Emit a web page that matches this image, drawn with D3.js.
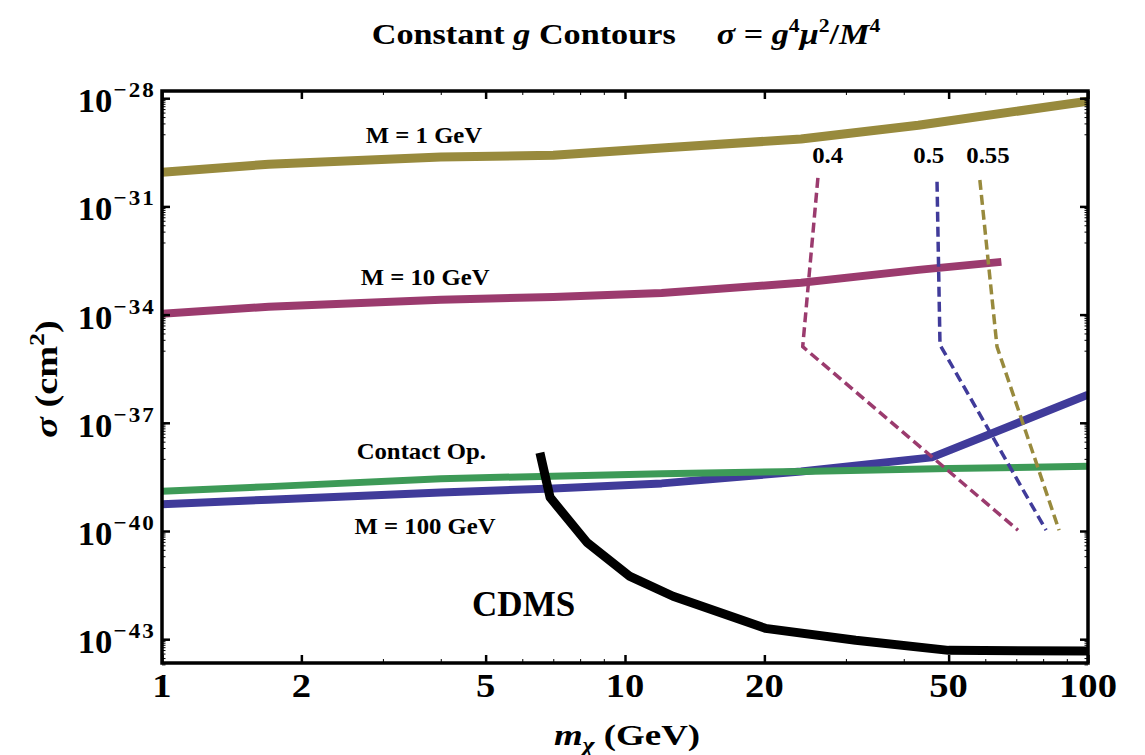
<!DOCTYPE html>
<html>
<head>
<meta charset="utf-8">
<script src="https://cdn.jsdelivr.net/npm/d3@7"></script>
<style>
  body { margin: 0; background: #fff; }
  svg text { font-family: "Liberation Serif", "Times New Roman", serif; font-weight: bold; fill: #000; }
</style>
</head>
<body>
<div id="chart"></div>
<script>
// --- values (mass in GeV, sigma in cm^2) ---
const massM1 = [1, 1.7, 4, 7, 12, 24, 43, 100];
const sigmaM1 = [8.9e-31, 1.48e-30, 2.34e-30, 2.63e-30, 4.17e-30, 7.4e-30, 1.78e-29, 8.3e-29];

const massM10 = [1, 1.7, 4, 7, 12, 24, 43, 65];
const sigmaM10 = [1.05e-34, 1.66e-34, 2.57e-34, 3.1e-34, 4.0e-34, 7.6e-34, 1.74e-33, 2.9e-33];

const massM100 = [1, 1.7, 4, 7, 12, 24, 46, 100];
const sigmaM100 = [5.5e-40, 7.4e-40, 1.17e-39, 1.51e-39, 2.09e-39, 4.47e-39, 1.10e-38, 6.0e-37];

const massContact = [1, 1.7, 4, 12, 24, 50, 100];
const sigmaContact = [1.26e-39, 1.70e-39, 2.82e-39, 3.89e-39, 4.47e-39, 5.4e-39, 6.2e-39];

const massCDMS = [6.55, 6.89, 8.28, 10.25, 12.7, 20.1, 31.5, 50, 100];
const sigmaCDMS = [1.48e-38, 8.5e-40, 4.8e-41, 5.5e-42, 1.55e-42, 2.0e-43, 9.3e-44, 4.9e-44, 4.7e-44];

const massG04 = [26.1, 24.2, 70.6];
const sigmaG04 = [6.2e-31, 1.29e-35, 1.05e-40];
const massG05 = [47.2, 47.9, 81.2];
const sigmaG05 = [4.8e-31, 1.45e-35, 1.05e-40];
const massG055 = [58.4, 63.6, 86.6];
const sigmaG055 = [5.4e-31, 1.29e-35, 1.05e-40];

const xTicks = [1, 2, 5, 10, 20, 50, 100];
const xMinor = [3, 4, 6, 7, 8, 9, 30, 40, 60, 70, 80, 90];
const yTickExp = [-28, -31, -34, -37, -40, -43];

// curve labels: [text, mass, sigma]
const curveLabels = [
  ["M = 1 GeV", 3.68, 5.7e-30],
  ["M = 10 GeV", 3.7, 6.6e-34],
  ["Contact Op.", 3.63, 1.02e-38],
  ["M = 100 GeV", 3.7, 8.0e-41]
];
// coupling labels: [text, mass]
const gLabels = [["0.4", 27.4], ["0.5", 45.3], ["0.55", 60.8]];

(function() {
  const width = 1145;
  const height = 755;
  const margin = { top: 91, right: 57, bottom: 92, left: 162 };

  const svg = d3.select("#chart")
    .append("svg")
      .attr("width", width)
      .attr("height", height);

  const x = d3.scaleLog()
    .domain([1, 100])
    .range([margin.left, width - margin.right]);

  const y = d3.scaleLog()
    .domain([Math.pow(10, -43.66), Math.pow(10, -27.8)])
    .range([height - margin.bottom, margin.top]);

  const line = d3.line()
    .x(d => x(d[0]))
    .y(d => y(d[1]));

  const series = [
    { mass: massM1, sigma: sigmaM1, color: "#988a3d", w: 9 },
    { mass: massM10, sigma: sigmaM10, color: "#9b3b6e", w: 8 },
    { mass: massM100, sigma: sigmaM100, color: "#403b9a", w: 8 },
    { mass: massContact, sigma: sigmaContact, color: "#3d9a57", w: 7 },
    { mass: massCDMS, sigma: sigmaCDMS, color: "#000000", w: 9 },
    { mass: massG04, sigma: sigmaG04, color: "#9b3b6e", w: 3.5, dash: "10,5" },
    { mass: massG05, sigma: sigmaG05, color: "#403b9a", w: 3.5, dash: "10,5" },
    { mass: massG055, sigma: sigmaG055, color: "#988a3d", w: 3.5, dash: "10,5" }
  ];

  const x0 = margin.left, x1 = width - margin.right;
  const y0 = margin.top, y1 = height - margin.bottom;

  // the reference's type is a little wide, so texts get a horizontal stretch
  const place = (px, py, sx, rot) =>
    `translate(${px},${py})` + (rot ? ` rotate(${rot})` : "") + ` scale(${sx},1)`;

  svg.append("clipPath").attr("id", "plot-clip")
    .append("rect")
      .attr("x", x0).attr("y", y0)
      .attr("width", x1 - x0).attr("height", y1 - y0);

  svg.append("g")
    .attr("clip-path", "url(#plot-clip)")
    .selectAll("path")
    .data(series)
    .enter().append("path")
      .attr("d", d => line(d3.zip(d.mass, d.sigma)))
      .attr("fill", "none")
      .attr("stroke", d => d.color)
      .attr("stroke-width", d => d.w)
      .attr("stroke-linejoin", "round")
      .attr("stroke-linecap", "butt")
      .attr("stroke-dasharray", d => d.dash || null);

  // ticks on all four sides, pointing inward
  const yMinor = [];
  yTickExp.forEach(e => {
    for (let n = 1; n <= 9; n++) yMinor.push(n * Math.pow(10, e - 1));
  });

  function styleAxis(g, w) {
    g.select(".domain").remove();
    g.selectAll("text").remove();
    g.selectAll("line").attr("stroke", "#000").attr("stroke-width", w);
  }

  svg.append("g").attr("transform", `translate(0,${y1})`)
    .call(d3.axisBottom(x).tickValues(xTicks).tickSize(-8)).call(g => styleAxis(g, 2.5));
  svg.append("g").attr("transform", `translate(0,${y1})`)
    .call(d3.axisBottom(x).tickValues(xMinor).tickSize(-4)).call(g => styleAxis(g, 1));
  svg.append("g").attr("transform", `translate(0,${y0})`)
    .call(d3.axisTop(x).tickValues(xTicks).tickSize(-8)).call(g => styleAxis(g, 2.5));
  svg.append("g").attr("transform", `translate(0,${y0})`)
    .call(d3.axisTop(x).tickValues(xMinor).tickSize(-4)).call(g => styleAxis(g, 1));

  const yMajor = yTickExp.map(e => Math.pow(10, e));
  svg.append("g").attr("transform", `translate(${x0},0)`)
    .call(d3.axisLeft(y).tickValues(yMajor).tickSize(-8)).call(g => styleAxis(g, 2.5));
  svg.append("g").attr("transform", `translate(${x0},0)`)
    .call(d3.axisLeft(y).tickValues(yMinor).tickSize(-3.5)).call(g => styleAxis(g, 1));
  svg.append("g").attr("transform", `translate(${x1},0)`)
    .call(d3.axisRight(y).tickValues(yMajor).tickSize(-8)).call(g => styleAxis(g, 2.5));
  svg.append("g").attr("transform", `translate(${x1},0)`)
    .call(d3.axisRight(y).tickValues(yMinor).tickSize(-3.5)).call(g => styleAxis(g, 1));

  // frame
  svg.append("rect")
    .attr("x", x0).attr("y", y0)
    .attr("width", x1 - x0).attr("height", y1 - y0)
    .attr("fill", "none")
    .attr("stroke", "#000")
    .attr("stroke-width", 3.5);

  // tick labels
  svg.append("g").selectAll("text")
    .data(xTicks)
    .enter().append("text")
      .attr("transform", d => place(x(d), y1 + 34, 1.17))
      .attr("text-anchor", "middle")
      .style("font-size", "33px")
      .text(d => d);

  const yl = svg.append("g").selectAll("text")
    .data(yTickExp)
    .enter().append("text")
      .attr("transform", d => place(x0 - 6, y(Math.pow(10, d)) + 14, 1.05))
      .attr("text-anchor", "end")
      .style("font-size", "33px");
  yl.append("tspan").text("10");
  yl.append("tspan")
    .attr("dy", -15)
    .attr("dx", 1)
    .style("font-size", "22px")
    .style("letter-spacing", "2px")
    .text(d => "\u2212" + Math.abs(d));

  // title
  const title = svg.append("text")
    .attr("transform", place((x0 + x1) / 2 + 1, 44, 1.14))
    .attr("text-anchor", "middle")
    .style("font-size", "30px");
  title.append("tspan").text("Constant ");
  title.append("tspan").style("font-style", "italic").text("g");
  title.append("tspan").text(" Contours");
  title.append("tspan").attr("dx", 36).style("font-style", "italic").text("\u03C3");
  title.append("tspan").text(" = ");
  title.append("tspan").style("font-style", "italic").text("g");
  title.append("tspan").attr("dy", -12).style("font-size", "19px").text("4");
  title.append("tspan").attr("dy", 12).style("font-style", "italic").text("\u03BC");
  title.append("tspan").attr("dy", -12).style("font-size", "19px").text("2");
  title.append("tspan").attr("dy", 12).text("/");
  title.append("tspan").style("font-style", "italic").text("M");
  title.append("tspan").attr("dy", -12).style("font-size", "19px").text("4");

  // axis titles
  const xt = svg.append("text")
    .attr("transform", place((x0 + x1) / 2 + 2, 745, 1.23))
    .attr("text-anchor", "middle")
    .style("font-size", "30px");
  xt.append("tspan").style("font-style", "italic").text("m");
  xt.append("tspan").attr("dy", 7).style("font-size", "21px").style("font-style", "italic").text("\u03C7");
  xt.append("tspan").attr("dy", -7).text(" (GeV)");

  const yt = svg.append("text")
    .attr("transform", place(57, 379, 1.2, -90))
    .attr("text-anchor", "middle")
    .style("font-size", "32px");
  yt.append("tspan").style("font-style", "italic").text("\u03C3");
  yt.append("tspan").text(" (cm");
  yt.append("tspan").attr("dy", -13).style("font-size", "21px").text("2");
  yt.append("tspan").attr("dy", 13).text(")");

  // curve annotations
  svg.append("g").selectAll("text")
    .data(curveLabels)
    .enter().append("text")
      .attr("transform", d => place(x(d[1]), y(d[2]), 1.1))
      .attr("text-anchor", "middle")
      .style("font-size", "22.5px")
      .text(d => d[0]);

  svg.append("g").selectAll("text")
    .data(gLabels)
    .enter().append("text")
      .attr("transform", d => place(x(d[1]), y(Math.pow(10, -29.8)), 1.08))
      .attr("text-anchor", "middle")
      .style("font-size", "23px")
      .text(d => d[0]);

  svg.append("text")
    .attr("transform", place(x(6.04), y(4.3e-43), 1.0))
    .attr("text-anchor", "middle")
    .style("font-size", "35px")
    .text("CDMS");
})();
</script>
</body>
</html>
